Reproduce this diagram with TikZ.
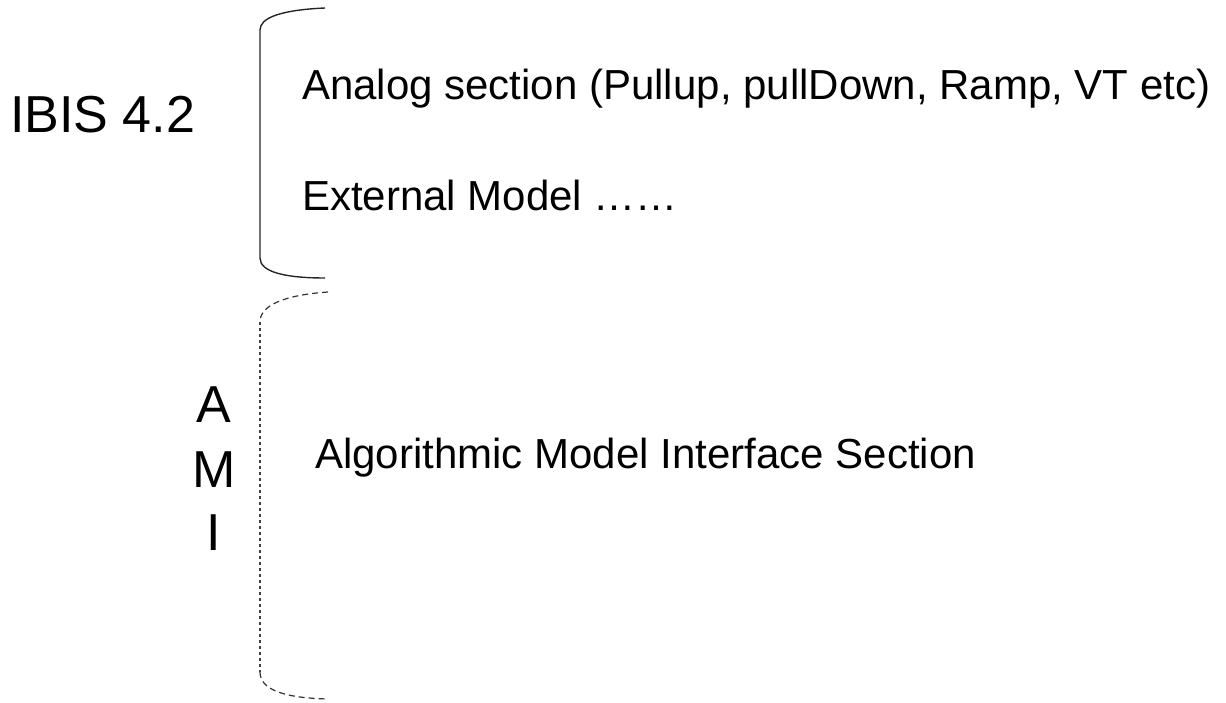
\documentclass[tikz,border=0pt]{standalone}
\usepackage{fontspec}
\setmainfont{Liberation Sans}
\begin{document}
\begin{tikzpicture}[x=1pt,y=-1pt,
  big/.style={inner sep=0pt,font=\fontsize{52pt}{60pt}\selectfont},
  body/.style={inner sep=0pt,anchor=base west,font=\fontsize{42pt}{50pt}\selectfont},
  brace/.style={line width=1.4pt,draw=black!85},
  dbrace/.style={line width=1.2pt,draw=black!80,dash pattern=on 6pt off 4pt},
  dline/.style={line width=1.2pt,draw=black!75,dash pattern=on 3pt off 3pt}]
\useasboundingbox (0,0) rectangle (1226,703);
% texts
\node[big,anchor=base west] (ibis) at (10,133) {IBIS 4.2};
\node[body] (analog) at (302,100) {Analog section (Pullup, pullDown, Ramp, VT etc)};
\node[body] (ext) at (302,211) {External Model ……};
\node[body] (algo) at (315,468) {Algorithmic Model Interface Section};
\node[big,anchor=base] (a) at (214,422) {A};
\node[big,anchor=base] (m) at (214,487) {M};
\node[big,anchor=base] (i) at (214,550) {I};
% solid bracket
\coordinate (s1) at (325,8);
\coordinate (s2) at (260,30);
\coordinate (s3) at (260,258);
\coordinate (s4) at (325,278);
\draw[brace] (s1) .. controls (280,10) and (260,18) .. (s2) -- (s3)
  .. controls (260,272) and (285,278) .. (s4);
% dashed bracket
\coordinate (d1) at (328,292);
\coordinate (d2) at (260,322);
\coordinate (d3) at (260,672);
\coordinate (d4) at (328,699);
\draw[dbrace] (d1) .. controls (285,295) and (260,305) .. (d2);
\draw[dline] (d2) -- (d3);
\draw[dbrace] (d3) .. controls (260,690) and (285,698) .. (d4);
\end{tikzpicture}
\end{document}
